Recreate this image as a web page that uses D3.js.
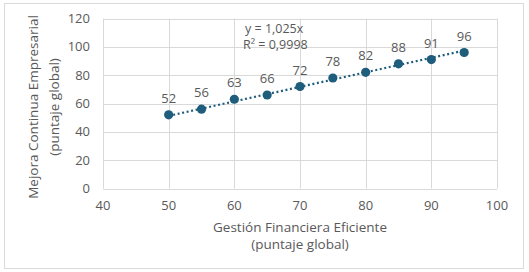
<!DOCTYPE html>
<html><head><meta charset="utf-8">
<script src="https://cdn.jsdelivr.net/npm/d3@7"></script>
<style>body{margin:0;background:#fff;}svg{display:block;}</style>
</head><body>
<svg id="c" width="529" height="272"></svg>
<script>
const xValues = [50, 55, 60, 65, 70, 75, 80, 85, 90, 95];
const yValues = [52, 56, 63, 66, 72, 78, 82, 88, 91, 96];
const xTicks = [40, 50, 60, 70, 80, 90, 100];
const yTicks = [0, 20, 40, 60, 80, 100, 120];
const slope = 1.025;
const eqLines = ["y = 1,025x", "R² = 0,9998"];
const xTitle = ["Gestión Financiera Eficiente", "(puntaje global)"];
const yTitle = ["Mejora Continua Empresarial", "(puntaje global)"];

const svg = d3.select("#c");
const font = "'Open Sans', sans-serif";
const txt = "#595959", grid = "#d9d9d9", col = "#1f5d7c";

svg.append("rect").attr("x", 4.5).attr("y", 3.5).attr("width", 519).attr("height", 265)
  .attr("fill", "#fff").attr("stroke", "#d9d9d9");

const x = d3.scaleLinear().domain([40, 100]).range([103, 497]);
const y = d3.scaleLinear().domain([0, 120]).range([188.5, 18.5]);

const g = svg.append("g");
g.selectAll("line.gx").data(xTicks).join("line").attr("class", "gx")
  .attr("x1", d => Math.round(x(d)) + 0.5).attr("x2", d => Math.round(x(d)) + 0.5)
  .attr("y1", y(0)).attr("y2", y(120)).attr("stroke", grid);
g.selectAll("line.gy").data(yTicks).join("line").attr("class", "gy")
  .attr("y1", d => Math.round(y(d)) + 0.5).attr("y2", d => Math.round(y(d)) + 0.5)
  .attr("x1", x(40)).attr("x2", x(100)).attr("stroke", grid);

g.selectAll("text.tx").data(xTicks).join("text").attr("class", "tx")
  .attr("x", d => x(d)).attr("y", 210).attr("text-anchor", "middle")
  .attr("font-family", font).attr("font-size", 13).attr("fill", txt).text(d => String(d));
g.selectAll("text.ty").data(yTicks).join("text").attr("class", "ty")
  .attr("x", 90).attr("y", d => y(d) + 4.5).attr("text-anchor", "end")
  .attr("font-family", font).attr("font-size", 13).attr("fill", txt).text(d => String(d));

// trendline
const x0 = d3.min(xValues), x1 = d3.max(xValues);
g.append("line").attr("x1", x(x0)).attr("y1", y(slope * x0)).attr("x2", x(x1)).attr("y2", y(slope * x1))
  .attr("stroke", col).attr("stroke-width", 2.2).attr("stroke-dasharray", "2,2.6");

const pts = xValues.map((v, i) => ({ xv: v, yv: yValues[i] }));
g.selectAll("circle.pt").data(pts).join("circle").attr("class", "pt")
  .attr("cx", d => x(d.xv)).attr("cy", d => y(d.yv)).attr("r", 4.6).attr("fill", col);
g.selectAll("text.lb").data(pts).join("text").attr("class", "lb")
  .attr("x", d => x(d.xv)).attr("y", d => y(d.yv) - 12).attr("text-anchor", "middle")
  .attr("font-family", font).attr("font-size", 13).attr("fill", txt).text(d => String(d.yv));

g.selectAll("text.eq").data(eqLines).join("text").attr("class", "eq")
  .attr("x", (d, i) => i === 0 ? 245 : 243).attr("y", (d, i) => 33 + i * 15.5)
  .attr("font-family", font).attr("font-size", 12.5).attr("fill", txt).text(d => d);

g.selectAll("text.xt").data(xTitle).join("text").attr("class", "xt")
  .attr("x", 300).attr("y", (d, i) => 232 + i * 17).attr("text-anchor", "middle")
  .attr("font-family", font).attr("font-size", 13.5).attr("fill", txt).text(d => d);
g.selectAll("text.yt").data(yTitle).join("text").attr("class", "yt")
  .attr("transform", (d, i) => `translate(${38 + i * 21},107) rotate(-90)`)
  .attr("text-anchor", "middle")
  .attr("font-family", font).attr("font-size", 13.5).attr("fill", txt).text(d => d);
</script>
</body></html>
